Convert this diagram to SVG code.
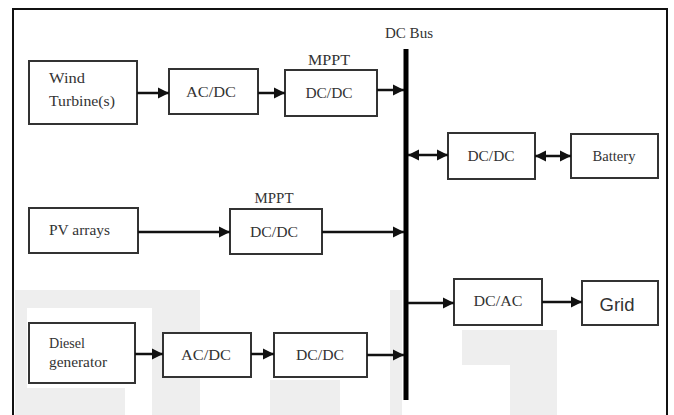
<svg xmlns="http://www.w3.org/2000/svg" width="674" height="415" viewBox="0 0 674 415">
<defs>
<marker id="ah" markerUnits="userSpaceOnUse" markerWidth="12" markerHeight="12" refX="11" refY="6" orient="auto-start-reverse">
<path d="M0,0.5 L11,6 L0,11.5 z" fill="#111"/>
</marker>
<style>
.box{fill:#fff;stroke:#333;stroke-width:2}
.t{font-family:"Liberation Serif","Times New Roman",serif;font-size:14px;fill:#333}
.s{font-family:"Liberation Sans",Arial,sans-serif;font-size:18px;fill:#333}
.c{stroke:#111;stroke-width:2.5;fill:none}
.wm{fill:#eeeeee}
</style>
</defs>
<rect x="0" y="0" width="674" height="415" fill="#fff"/>
<g id="watermark">
<rect class="wm" x="15" y="290" width="185" height="18"/>
<rect class="wm" x="15" y="290" width="12" height="125"/>
<rect class="wm" x="152" y="290" width="48" height="125"/>
<rect class="wm" x="15" y="388" width="110" height="27"/>
<rect class="wm" x="270" y="380" width="70" height="35"/>
<rect class="wm" x="390" y="290" width="12" height="125"/>
<rect class="wm" x="462" y="330" width="95" height="35"/>
<rect class="wm" x="510" y="330" width="47" height="85"/>
</g>
<path d="M13,415 V9 H667 V415" fill="none" stroke="#111" stroke-width="2"/>
<g id="bus">
<line x1="406" y1="49" x2="406" y2="400" stroke="#000" stroke-width="5"/>
<text class="t" x="409" y="38" text-anchor="middle" textLength="48" lengthAdjust="spacingAndGlyphs">DC Bus</text>
</g>
<g id="wind">
<rect class="box" x="29" y="61" width="108" height="63"/>
<text class="t" x="49" y="83" textLength="36" lengthAdjust="spacingAndGlyphs">Wind</text>
<text class="t" x="49" y="106" textLength="66" lengthAdjust="spacingAndGlyphs">Turbine(s)</text>
</g>
<g id="acdc1">
<rect class="box" x="169" y="69" width="89" height="45"/>
<text class="t" x="211" y="97" text-anchor="middle" textLength="50" lengthAdjust="spacingAndGlyphs">AC/DC</text>
</g>
<g id="dcdc1">
<text class="t" x="329" y="65" text-anchor="middle" textLength="42" lengthAdjust="spacingAndGlyphs">MPPT</text>
<rect class="box" x="285" y="70" width="92" height="46"/>
<text class="t" x="329" y="98" text-anchor="middle" textLength="47" lengthAdjust="spacingAndGlyphs">DC/DC</text>
</g>
<g id="dcdc2">
<rect class="box" x="448" y="133" width="87" height="46"/>
<text class="t" x="491" y="161" text-anchor="middle" textLength="47" lengthAdjust="spacingAndGlyphs">DC/DC</text>
</g>
<g id="battery">
<rect class="box" x="571" y="134" width="87" height="44"/>
<text class="t" x="614" y="161" text-anchor="middle" textLength="43" lengthAdjust="spacingAndGlyphs">Battery</text>
</g>
<g id="pv">
<rect class="box" x="29" y="208" width="109" height="45"/>
<text class="t" x="49" y="235" textLength="61" lengthAdjust="spacingAndGlyphs">PV arrays</text>
</g>
<g id="dcdcpv">
<text class="t" x="274" y="203" text-anchor="middle" textLength="39" lengthAdjust="spacingAndGlyphs">MPPT</text>
<rect class="box" x="230" y="209" width="92" height="45"/>
<text class="t" x="274" y="237" text-anchor="middle" textLength="48" lengthAdjust="spacingAndGlyphs">DC/DC</text>
</g>
<g id="diesel">
<rect class="box" x="29" y="323" width="106" height="60"/>
<text class="t" x="49" y="348" textLength="36" lengthAdjust="spacingAndGlyphs">Diesel</text>
<text class="t" x="49" y="367" textLength="58" lengthAdjust="spacingAndGlyphs">generator</text>
</g>
<g id="acdc2">
<rect class="box" x="163" y="333" width="88" height="44"/>
<text class="t" x="206" y="360" text-anchor="middle" textLength="50" lengthAdjust="spacingAndGlyphs">AC/DC</text>
</g>
<g id="dcdc3">
<rect class="box" x="274" y="333" width="93" height="44"/>
<text class="t" x="320" y="360" text-anchor="middle" textLength="48" lengthAdjust="spacingAndGlyphs">DC/DC</text>
</g>
<g id="dcac">
<rect class="box" x="454" y="279" width="88" height="46"/>
<text class="t" x="498" y="306" text-anchor="middle" textLength="49" lengthAdjust="spacingAndGlyphs">DC/AC</text>
</g>
<g id="grid">
<rect class="box" x="582" y="281" width="76" height="44"/>
<text class="s" x="617" y="311" text-anchor="middle" textLength="35" lengthAdjust="spacingAndGlyphs">Grid</text>
</g>
<g id="connectors">
<line class="c" x1="137" y1="93" x2="169" y2="93" marker-end="url(#ah)"/>
<line class="c" x1="258" y1="93" x2="285" y2="93" marker-end="url(#ah)"/>
<line class="c" x1="377" y1="90" x2="404" y2="90" marker-end="url(#ah)"/>
<line class="c" x1="408" y1="155" x2="448" y2="155" marker-start="url(#ah)" marker-end="url(#ah)"/>
<line class="c" x1="535" y1="156" x2="571" y2="156" marker-start="url(#ah)" marker-end="url(#ah)"/>
<line class="c" x1="138" y1="232" x2="230" y2="232" marker-end="url(#ah)"/>
<line class="c" x1="322" y1="232" x2="404" y2="232" marker-end="url(#ah)"/>
<line class="c" x1="135" y1="354" x2="163" y2="354" marker-end="url(#ah)"/>
<line class="c" x1="251" y1="354" x2="274" y2="354" marker-end="url(#ah)"/>
<line class="c" x1="367" y1="355" x2="404" y2="355" marker-end="url(#ah)"/>
<line class="c" x1="408" y1="303" x2="454" y2="303" marker-end="url(#ah)"/>
<line class="c" x1="542" y1="302" x2="582" y2="302" marker-end="url(#ah)"/>
</g>
</svg>
